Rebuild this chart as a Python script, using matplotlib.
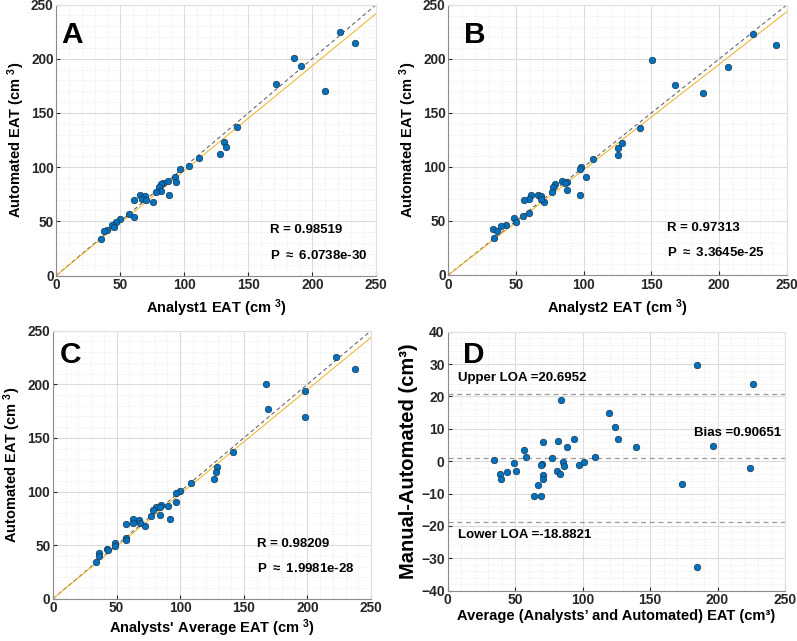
import numpy as np
import matplotlib
matplotlib.use("Agg")
import matplotlib.pyplot as plt
from matplotlib.ticker import MultipleLocator

plt.rcParams['font.family'] = ['Liberation Sans', 'DejaVu Sans']
plt.rcParams['font.weight'] = 'bold'
plt.rcParams['mathtext.fontset'] = 'custom'
plt.rcParams['mathtext.rm'] = 'Liberation Sans:bold'
plt.rcParams['mathtext.bf'] = 'Liberation Sans:bold'
plt.rcParams['mathtext.default'] = 'rm'

# ---------------- data ----------------
a_x = [221.6, 233.6, 185.4, 191.2, 210.2, 171.6, 141.4, 131.3, 132.3, 128.1, 111.5, 103.4,
       96.6, 92.5, 93.5, 87.0, 83.1, 81.8, 80.5, 82.1, 78.1, 88.3, 75.8, 65.4, 69.3, 67.2,
       69.8, 60.4, 56.5, 60.4, 50.0, 46.9, 43.5, 45.3, 39.9, 37.3, 35.2]
a_y = [225.0, 214.3, 200.8, 193.7, 170.0, 176.8, 137.2, 122.7, 118.1, 112.0, 108.0, 100.9,
       97.9, 90.8, 86.2, 86.8, 85.3, 84.0, 81.9, 78.2, 76.7, 74.2, 67.7, 74.2, 73.6, 70.5,
       69.6, 69.3, 57.0, 54.2, 52.1, 49.3, 46.2, 45.0, 42.2, 40.7, 33.9]

b_x = [224.8, 242.3, 150.7, 206.3, 167.2, 187.9, 141.8, 128.0, 125.3, 125.3, 107.1, 97.8,
       97.0, 101.7, 87.9, 83.7, 86.4, 79.0, 77.6, 76.8, 87.4, 97.5, 70.7, 61.3, 66.0, 68.7,
       68.2, 59.6, 56.2, 59.8, 55.4, 48.3, 50.2, 42.6, 39.2, 32.8, 35.7, 33.5]
b_y = [223.5, 213.0, 199.1, 192.6, 175.6, 168.8, 136.4, 122.2, 117.6, 111.4, 107.4, 100.3,
       97.8, 90.4, 86.1, 86.7, 85.2, 84.6, 81.8, 76.5, 78.4, 74.1, 67.6, 74.4, 73.8, 72.8,
       70.1, 70.1, 69.4, 57.1, 54.6, 52.5, 49.1, 46.0, 45.4, 42.3, 40.7, 34.6]

c_x = [222.5, 237.2, 167.5, 198.4, 169.0, 198.4, 141.2, 129.2, 128.1, 126.3, 108.8, 100.1,
       96.4, 97.0, 90.1, 85.2, 80.7, 83.9, 78.9, 77.0, 84.1, 92.2, 72.6, 63.2, 67.6, 68.7,
       62.9, 57.7, 57.4, 57.7, 49.0, 48.5, 42.5, 42.9, 36.2, 36.2, 34.1]
c_y = [225.3, 214.4, 200.7, 193.9, 176.8, 169.9, 137.2, 122.9, 118.0, 112.0, 108.0, 100.8,
       98.4, 90.6, 86.2, 87.2, 85.3, 85.3, 82.5, 76.9, 78.4, 74.1, 67.9, 74.4, 73.5, 70.4,
       70.7, 69.4, 57.0, 54.8, 52.3, 49.2, 46.1, 45.6, 42.4, 39.9, 33.9]

d_x = [184.8, 226.5, 83.8, 119.6, 123.8, 126.3, 139.6, 196.4, 94.0, 81.9, 88.8, 70.7,
       56.4, 57.9, 34.4, 49.3, 51.0, 44.1, 38.9, 39.6, 70.2, 69.0, 77.4, 85.6, 86.5, 80.9,
       83.3, 97.7, 100.9, 109.0, 71.0, 71.0, 67.0, 64.1, 69.0, 173.5, 224.3, 184.8]
d_y = [29.6, 23.8, 18.9, 14.9, 10.7, 6.9, 4.5, 4.7, 6.8, 6.2, 4.5, 5.8,
       3.5, 1.2, 0.4, -0.5, -3.1, -3.4, -3.9, -5.6, -0.9, -1.2, 0.9, -0.3, -1.5, -2.9,
       -4.0, -1.1, -0.2, 1.45, -4.4, -5.6, -7.2, -10.9, -10.9, -7.1, -2.2, -32.8]

fit_slopes = [0.967, 0.975, 0.975]
r_texts = ['R = 0.98519', 'R = 0.97313', 'R = 0.98209']
p_texts = ['P $\\approx$ 6.0738e-30', 'P $\\approx$ 3.3645e-25', 'P $\\approx$ 1.9981e-28']
x_labels = ['Analyst1 EAT (cm $^3$)', 'Analyst2 EAT (cm $^3$)', "Analysts' Average EAT (cm $^3$)"]
y_label = 'Automated EAT (cm $^3$)'
letters = ['A', 'B', 'C', 'D']
bias = 0.90651
upper_loa = 20.6952
lower_loa = -18.8821

# ---------------- style ----------------
W, H = 797, 641
fig = plt.figure(figsize=(W / 100, H / 100), dpi=100)

def px_axes(left, top, right, bottom):
    return fig.add_axes([left / W, 1 - bottom / H, (right - left) / W, (bottom - top) / H])

DOT = '#0072BD'
EDGE = '#1b3550'

def style(ax, major_y, minor_y, fs):
    ax.xaxis.set_major_locator(MultipleLocator(50))
    ax.xaxis.set_minor_locator(MultipleLocator(10))
    ax.yaxis.set_major_locator(MultipleLocator(major_y))
    ax.yaxis.set_minor_locator(MultipleLocator(minor_y))
    ax.grid(which='major', color='#dcdcdc', lw=0.8)
    ax.grid(which='minor', color='#e6e6e6', lw=0.6, ls=':')
    ax.set_axisbelow(True)
    ax.tick_params(which='both', direction='in', labelsize=fs, pad=2,
                   colors='#262626', length=3)
    ax.tick_params(which='minor', length=0)
    for lab in ax.get_xticklabels() + ax.get_yticklabels():
        lab.set_fontweight('bold')
    for s in ['left', 'bottom']:
        ax.spines[s].set_color('#8c8c8c')
        ax.spines[s].set_linewidth(0.8)
    for s in ['top', 'right']:
        ax.spines[s].set_color('#e0e0e0')
        ax.spines[s].set_linewidth(0.8)

boxes = [(56.3, 4.5, 376.3, 275.5), (448.3, 5, 786.7, 275), (53, 330.7, 371, 598.7)]
letter_pos = [(0.015, 0.857), (0.046, 0.86), (0.022, 0.878)]
r_pos = [(167, 41.9), (161.5, 43.8), (160, 51.0)]
p_pos = [(167, 18.9), (161.5, 20.6), (160, 28.4)]
xlabel_pads = [4, 4, 1.5]
xs = [a_x, b_x, c_x]
ys = [a_y, b_y, c_y]

for i in range(3):
    ax = px_axes(*boxes[i])
    style(ax, 50, 10, 9.8)
    ax.set_xlim(0, 250)
    ax.set_ylim(0, 250)
    line = np.array([0, 250])
    ax.plot(line, line, ls='--', color='#555555', lw=0.7, dashes=(4, 3), zorder=2)
    ax.plot(line, fit_slopes[i] * line, color='#EDB120', lw=0.7, zorder=2)
    ax.scatter(xs[i], ys[i], s=22, c=DOT, edgecolors=EDGE, linewidths=0.5, zorder=3)
    ax.text(*r_pos[i], r_texts[i], fontsize=9.5, fontweight='bold', va='center', ha='left')
    ax.text(*p_pos[i], p_texts[i], fontsize=9.5, fontweight='bold', va='center', ha='left')
    ax.text(*letter_pos[i], letters[i], transform=ax.transAxes, fontsize=21.5,
            fontweight='bold', va='baseline', ha='left')
    ax.set_xlabel(x_labels[i], fontsize=10.5, fontweight='bold', labelpad=xlabel_pads[i])
    ax.set_ylabel(y_label, fontsize=10.5, fontweight='bold', labelpad=3)

# ---------------- Bland-Altman ----------------
ax = px_axes(447.5, 331.7, 785, 590.7)
style(ax, 10, 2, 10)
ax.set_xlim(0, 250)
ax.set_ylim(-40, 40)
for v in [upper_loa, bias, lower_loa]:
    ax.plot([0, 250], [v, v], ls='--', color='#9a9a9a', lw=0.9, dashes=(4, 3), zorder=2)
ax.scatter(d_x, d_y, s=22, c=DOT, edgecolors=EDGE, linewidths=0.5, zorder=3)
ax.text(7.5, 25.7, 'Upper LOA =%.4f' % upper_loa, fontsize=9.5, fontweight='bold', va='center')
ax.text(182.6, 8.6, 'Bias =%.5f' % bias, fontsize=9.5, fontweight='bold', va='center')
ax.text(7.5, -22.9, 'Lower LOA =%.4f' % lower_loa, fontsize=9.5, fontweight='bold', va='center')
ax.text(0.046, 0.878, 'D', transform=ax.transAxes, fontsize=21.5, fontweight='bold',
        va='baseline', ha='left')
ax.set_xlabel('Average (Analysts\u2019 and Automated) EAT (cm\u00b3)', fontsize=10.5,
              fontweight='bold', labelpad=1)
ax.set_ylabel('Manual-Automated (cm\u00b3)', fontsize=14.5, fontweight='bold', labelpad=2)

fig.savefig('out.png', dpi=100)
